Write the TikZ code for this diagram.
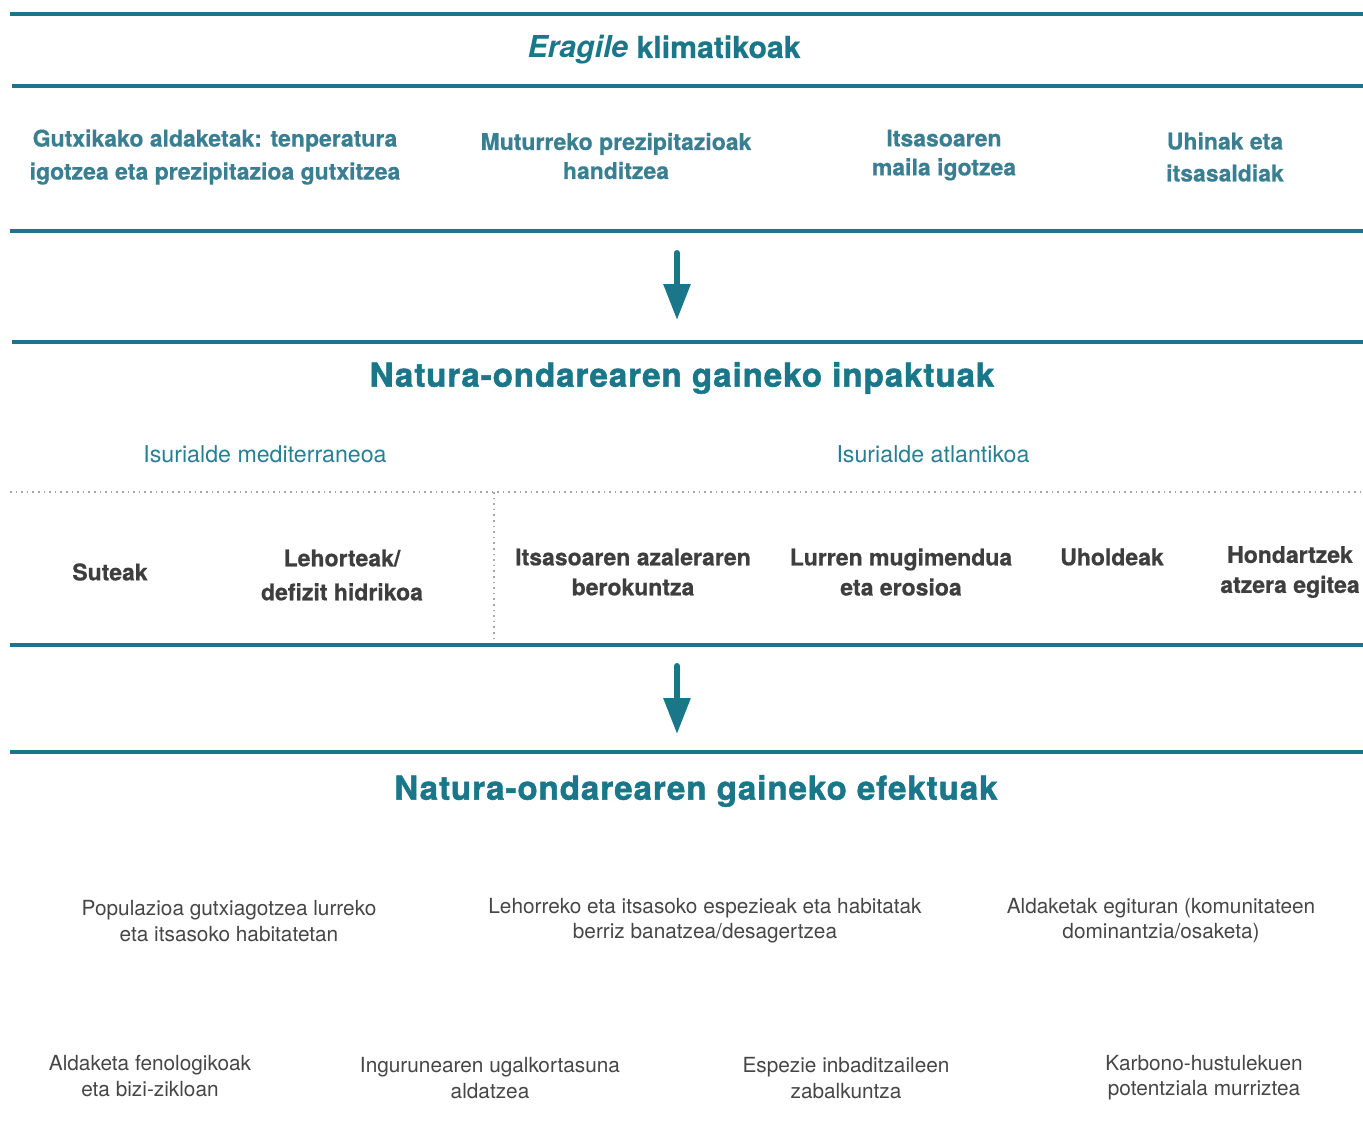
\documentclass[tikz,border=0pt]{standalone}
\usepackage{fontspec}
\setmainfont{TeX Gyre Heros}[BoldFeatures={FakeBold=0.6}]
\newfontfamily\heavyfont{TeX Gyre Heros}[BoldFeatures={FakeBold=1.6, LetterSpace=3}]
\usetikzlibrary{arrows.meta, positioning}
\definecolor{bandteal}{RGB}{26,119,137}
\definecolor{drvteal}{RGB}{58,127,145}
\definecolor{slopeteal}{RGB}{38,128,148}
\definecolor{impgray}{RGB}{62,62,62}
\definecolor{effgray}{RGB}{70,70,70}

\begin{document}
\begin{tikzpicture}[
    x=0.5pt, y=-0.5pt,
    band/.style={draw=bandteal, line width=2pt},
    sep/.style={draw=gray!70, dotted, line width=0.8pt},
    title/.style={font=\heavyfont\fontsize{16.5}{19}\selectfont\bfseries, text=bandteal, inner sep=0pt},
    driver/.style={font=\fontsize{11.5}{16.5}\selectfont\bfseries, text=drvteal, align=center, inner sep=0pt},
    slope/.style={font=\fontsize{11.6}{13}\selectfont, text=slopeteal, inner sep=0pt},
    impact/.style={font=\fontsize{11.5}{15}\selectfont\bfseries, text=impgray, align=center, inner sep=0pt},
    effect/.style={font=\fontsize{10.4}{12.6}\selectfont, text=effgray, align=center, inner sep=0pt},
    arrow/.style={-{Triangle[length=18pt, width=13pt]}, draw=bandteal, fill=bandteal, line width=3pt, line cap=round}
]
\useasboundingbox (0,0) rectangle (1363,1142);

% Bands
\draw[band] (10,14) -- (1363,14);
\draw[band] (12,86) -- (1363,86);
\draw[band] (10,231) -- (1363,231);
\draw[band] (12,342) -- (1363,342);
\draw[band] (10,645) -- (1363,645);
\draw[band] (10,752) -- (1363,752);

% Climate drivers
\node[inner sep=0pt, text=bandteal, font=\fontsize{15.1}{18}\selectfont\bfseries] (drvtitle) at (664,50) {\textit{Eragile} klimatikoak};
\node[driver] (drv1) at (215,157) {Gutxikako aldaketak: tenperatura\\igotzea eta prezipitazioa gutxitzea};
\node[driver, font=\fontsize{11.5}{14.5}\selectfont\bfseries] (drv2) at (616,156) {Muturreko prezipitazioak\\handitzea};
\node[driver, font=\fontsize{11.5}{14.5}\selectfont\bfseries] (drv3) at (944,155) {Itsasoaren\\maila igotzea};
\node[driver, font=\fontsize{11.5}{16}\selectfont\bfseries] (drv4) at (1225,157) {Uhinak eta\\itsasaldiak};

% Arrow to impacts
\coordinate (a1s) at (677,253);
\coordinate (a1e) at (677,320);
\draw[arrow] (a1s) -- (a1e);

% Impacts
\node[title] (imptitle) at (682,378) {Natura-ondarearen gaineko inpaktuak};
\node[slope] (med) at (265,454) {Isurialde mediterraneoa};
\node[slope] (atl) at (933,454) {Isurialde atlantikoa};

\coordinate (sepl) at (10,492);
\coordinate (sepr) at (1363,492);
\coordinate (sept) at (494,492);
\coordinate (sepb) at (494,643);
\draw[sep] (sepl) -- (sepr);
\draw[sep] (sept) -- (sepb);

\node[impact] (imp1) at (110,572) {Suteak};
\node[impact] (imp2) at (342,575) {Lehorteak/\\[2pt]defizit hidrikoa};
\node[impact] (imp3) at (633,572) {Itsasoaren azaleraren\\berokuntza};
\node[impact] (imp4) at (901,572) {Lurren mugimendua\\eta erosioa};
\node[impact] (imp5) at (1112,557) {Uholdeak};
\node[impact] (imp6) at (1290,572) {Hondartzek\\atzera egitea};

% Arrow to effects
\coordinate (a2s) at (677,666);
\coordinate (a2e) at (677,734);
\draw[arrow] (a2s) -- (a2e);

% Effects
\node[title] (efftitle) at (696,791) {Natura-ondarearen gaineko efektuak};
\node[effect] (eff1) at (229,921) {Populazioa gutxiagotzea lurreko\\eta itsasoko habitatetan};
\node[effect] (eff2) at (705,921) {Lehorreko eta itsasoko espezieak eta habitatak\\berriz banatzea/desagertzea};
\node[effect] (eff3) at (1161,921) {Aldaketak egituran (komunitateen\\dominantzia/osaketa)};
\node[effect] (eff4) at (150,1076) {Aldaketa fenologikoak\\eta bizi-zikloan};
\node[effect] (eff5) at (490,1078) {Ingurunearen ugalkortasuna\\aldatzea};
\node[effect] (eff6) at (846,1078) {Espezie inbaditzaileen\\zabalkuntza};
\node[effect] (eff7) at (1204,1078) {Karbono-hustulekuen\\potentziala murriztea};

\end{tikzpicture}
\end{document}
